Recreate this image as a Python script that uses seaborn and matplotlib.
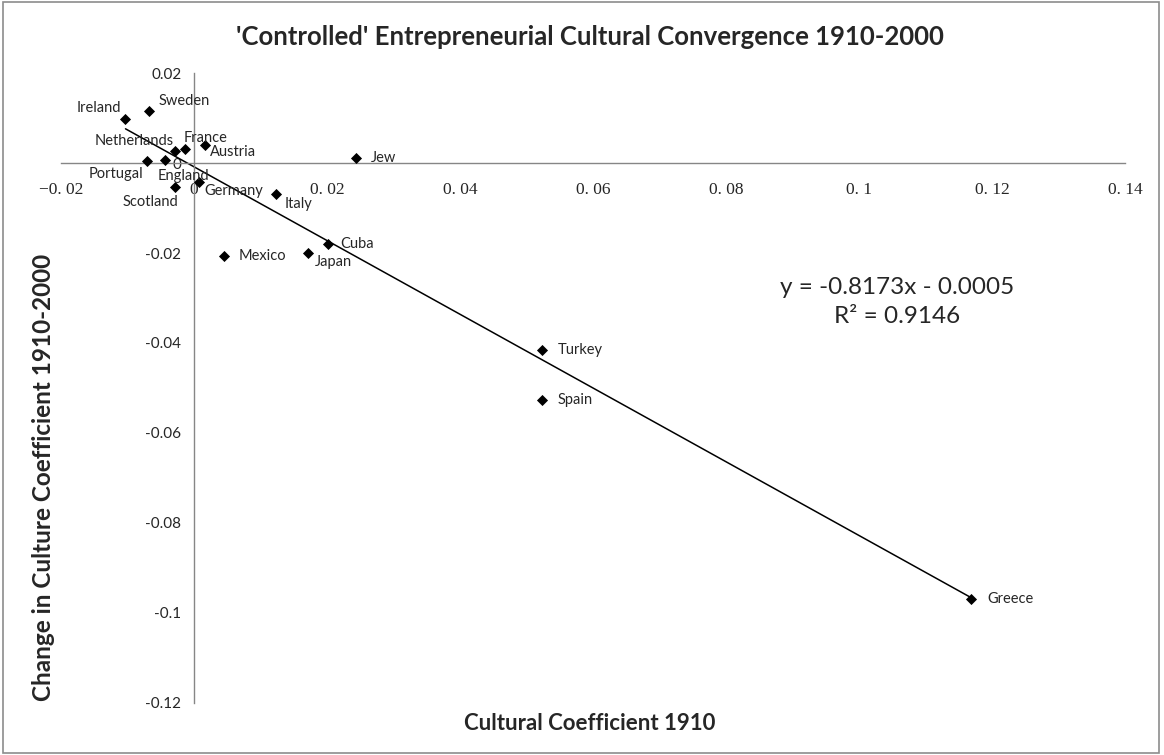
import pandas as pd
import seaborn as sns
import matplotlib.pyplot as plt
from matplotlib.patches import Rectangle

countries = ["Ireland", "Sweden", "Netherlands", "France", "Austria", "Portugal",
             "England", "Scotland", "Germany", "Italy", "Jew", "Cuba", "Mexico",
             "Japan", "Turkey", "Spain", "Greece"]
culture_1910 = [-0.0103, -0.0068, -0.0029, -0.0014, 0.0016, -0.0070,
                -0.0044, -0.0028, 0.0008, 0.0123, 0.0243, 0.0202, 0.0045,
                0.0171, 0.0523, 0.0523, 0.1169]
change_1910_2000 = [0.0098, 0.0116, 0.0027, 0.0031, 0.0040, 0.0005,
                    0.0006, -0.0054, -0.0042, -0.0068, 0.0012, -0.0180, -0.0206,
                    -0.0201, -0.0416, -0.0526, -0.0970]

x_ticks = [-0.02, 0, 0.02, 0.04, 0.06, 0.08, 0.1, 0.12, 0.14]
x_tick_labels = ["\u22120. 02", "0", "0. 02", "0. 04", "0. 06", "0. 08", "0. 1", "0. 12", "0. 14"]
y_ticks = [0.02, 0, -0.02, -0.04, -0.06, -0.08, -0.1, -0.12]
y_tick_labels = ["0.02", "0", "-0.02", "-0.04", "-0.06", "-0.08", "-0.1", "-0.12"]

df = pd.DataFrame({"country": countries, "x": culture_1910, "y": change_1910_2000})

# label placement (pixels from marker, alignment)
label_pos = {
    "Ireland": (-4, 11, "right"), "Sweden": (10, 10, "left"),
    "Netherlands": (-1, 10, "right"), "France": (-1, 11, "left"),
    "Austria": (5, -7, "left"), "Portugal": (-4, -13, "right"),
    "England": (-7, -16, "left"), "Scotland": (3, -15, "right"),
    "Germany": (5, -9, "left"), "Italy": (9, -10, "left"),
    "Jew": (15, 0, "left"), "Cuba": (12, 0, "left"), "Mexico": (15, 0, "left"),
    "Japan": (7, -9, "left"), "Turkey": (16, 0, "left"), "Spain": (16, 0, "left"),
    "Greece": (16, 0, "left"),
}

sns.set_style("white")
plt.rcParams["font.family"] = ["Lato", "DejaVu Sans"]

fig = plt.figure(figsize=(11.64, 7.55), dpi=100)
ax = fig.add_axes([0.0524, 0.0689, 0.9141, 0.8344])

sns.regplot(data=df, x="x", y="y", scatter=False, ci=None, truncate=True,
            color="black", line_kws={"linewidth": 1.1}, ax=ax)
sns.scatterplot(data=df, x="x", y="y", marker="D", color="black", s=32,
                linewidth=0, ax=ax, zorder=3)

for _, r in df.iterrows():
    dx, dy, ha = label_pos[r["country"]]
    ax.annotate(r["country"], (r["x"], r["y"]), xytext=(dx, dy),
                textcoords="offset pixels", ha=ha, va="center", fontsize=10.5)

ax.set_xlim(-0.02, 0.14)
ax.set_ylim(-0.12, 0.02)
ax.spines["left"].set_position(("data", 0))
ax.spines["bottom"].set_position(("data", 0))
for s in ["top", "right"]:
    ax.spines[s].set_visible(False)
for s in ["left", "bottom"]:
    ax.spines[s].set_color("#868686")
    ax.spines[s].set_linewidth(1.0)

ax.set_xticks(x_ticks)
ax.set_xticklabels(x_tick_labels, family="Liberation Serif", fontsize=12.5)
ax.set_yticks(y_ticks)
ax.set_yticklabels(y_tick_labels, fontsize=11)
ax.tick_params(axis="x", direction="out", length=4, color="#868686", pad=10)
ax.tick_params(axis="y", direction="out", length=5, color="#868686", pad=4)
ax.set_xlabel("")
ax.set_ylabel("")

fig.text(0.507, 0.951, "'Controlled' Entrepreneurial Cultural Convergence 1910-2000",
         ha="center", va="center", fontsize=18.5, fontweight="bold")
fig.text(0.507, 0.042, "Cultural Coefficient 1910", ha="center", va="center",
         fontsize=16, fontweight="bold")
fig.text(0.037, 0.368, "Change in Culture Coefficient 1910-2000", ha="center",
         va="center", rotation=90, fontsize=17.5, fontweight="bold")

ax.text(0.1057, -0.0276, "y = -0.8173x - 0.0005", ha="center", va="center", fontsize=17.5)
ax.text(0.1057, -0.0341, "R\u00b2 = 0.9146", ha="center", va="center", fontsize=17.5)

fig.patches.append(Rectangle((0.003, 0.003), 0.993, 0.994, transform=fig.transFigure,
                             fill=False, edgecolor="#8c8c8c", linewidth=1.2))

fig.savefig("out.png", dpi=100)
